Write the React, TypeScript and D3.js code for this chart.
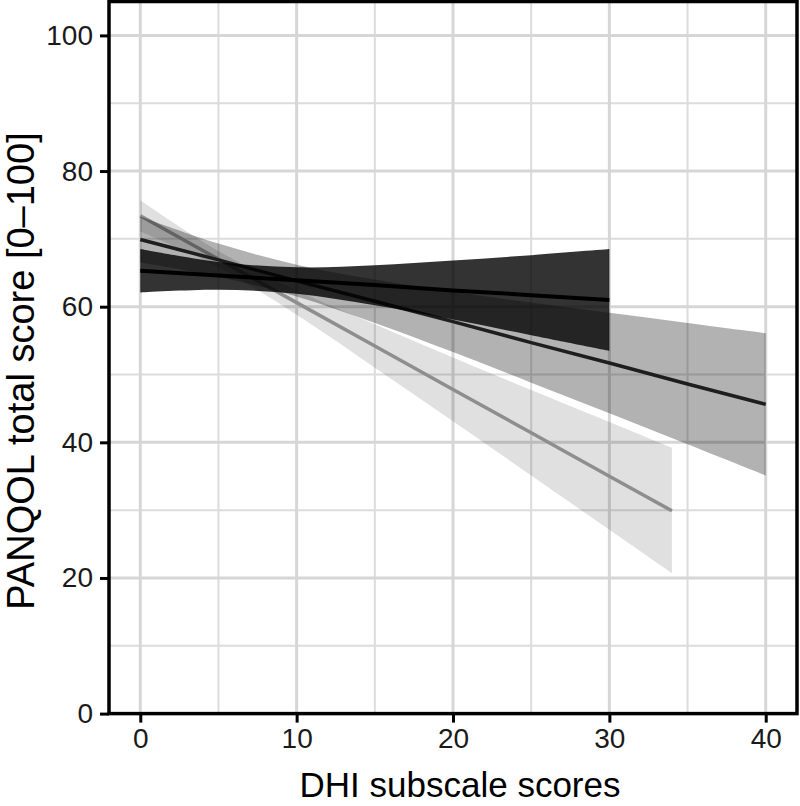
import { useEffect, useRef } from 'react'
import * as d3 from 'd3'

const darkX = [0, 5, 10, 15, 20, 25, 30]
const darkFit = [65.3, 64.6, 63.9, 63.2, 62.4, 61.7, 61.0]
const darkLow = [62.1, 62.5, 61.9, 60.2, 58.1, 55.8, 53.5]
const darkHigh = [68.5, 66.6, 65.8, 66.1, 66.8, 67.6, 68.5]

const midX = [0, 5, 10, 15, 20, 25, 30, 35, 40]
const midFit = [69.9, 66.9, 63.8, 60.8, 57.8, 54.7, 51.7, 48.6, 45.6]
const midLow = [66.5, 64.4, 61.5, 57.6, 53.3, 48.8, 44.3, 39.7, 35.1]
const midHigh = [73.3, 69.3, 66.2, 64.0, 62.2, 60.6, 59.1, 57.6, 56.1]

const lightX = [0, 5, 10, 15, 20, 25, 30, 34]
const lightFit = [73.4, 67.0, 60.6, 54.2, 47.8, 41.4, 35.0, 29.9]
const lightLow = [71.1, 65.8, 58.8, 51.0, 43.1, 35.1, 27.1, 20.7]
const lightHigh = [75.7, 68.2, 62.4, 57.4, 52.5, 47.7, 43.0, 39.2]

const xTicks = [0, 10, 20, 30, 40]
const xMinor = [5, 15, 25, 35]
const yTicks = [0, 20, 40, 60, 80, 100]
const yMinor = [10, 30, 50, 70, 90]

const xTitle = 'DHI subscale scores'
const yTitle = 'PANQOL total score [0\u2013100]'

export default function App() {
  const svgRef = useRef<SVGSVGElement | null>(null)
  const width = 800
  const height = 806

  useEffect(() => {
    const svg = d3.select(svgRef.current)
    svg.selectAll('*').remove()

    const left = 109, right = 797, top = 1.5, bottom = 713.6
    const x = d3.scaleLinear().domain([-2, 42]).range([left, right])
    const y = d3.scaleLinear().domain([0, 105]).range([bottom, top])
    const font = '"Liberation Sans", Arial, Helvetica, sans-serif'

    const g = svg.append('g')

    // grid
    g.selectAll('line.xminor').data(xMinor).enter().append('line')
      .attr('x1', d => x(d)).attr('x2', d => x(d)).attr('y1', top).attr('y2', bottom)
      .attr('stroke', '#dcdcdc').attr('stroke-width', 2)
    g.selectAll('line.yminor').data(yMinor).enter().append('line')
      .attr('y1', d => y(d)).attr('y2', d => y(d)).attr('x1', left).attr('x2', right)
      .attr('stroke', '#dcdcdc').attr('stroke-width', 2)
    g.selectAll('line.xmajor').data(xTicks).enter().append('line')
      .attr('x1', d => x(d)).attr('x2', d => x(d)).attr('y1', top).attr('y2', bottom)
      .attr('stroke', '#d6d6d6').attr('stroke-width', 3)
    g.selectAll('line.ymajor').data(yTicks).enter().append('line')
      .attr('y1', d => y(d)).attr('y2', d => y(d)).attr('x1', left).attr('x2', right)
      .attr('stroke', '#d6d6d6').attr('stroke-width', 3)

    const groups = [
      { xs: lightX, fit: lightFit, lo: lightLow, hi: lightHigh, fill: 0.12, line: '#8e8e8e', lw: 3.5 },
      { xs: midX, fit: midFit, lo: midLow, hi: midHigh, fill: 0.3, line: '#1e1e1e', lw: 3.5 },
      { xs: darkX, fit: darkFit, lo: darkLow, hi: darkHigh, fill: 0.8, line: '#000', lw: 4 },
    ]

    groups.forEach(grp => {
      const pts = grp.xs.map((v, i) => ({ v, fit: grp.fit[i], lo: grp.lo[i], hi: grp.hi[i] }))
      const area = d3.area<any>()
        .x(d => x(d.v)).y0(d => y(d.lo)).y1(d => y(d.hi))
        .curve(d3.curveCatmullRom)
      const line = d3.line<any>().x(d => x(d.v)).y(d => y(d.fit))
      g.append('path').attr('d', area(pts)).attr('fill', '#000').attr('fill-opacity', grp.fill)
      g.append('path').attr('d', line(pts)).attr('fill', 'none')
        .attr('stroke', grp.line).attr('stroke-width', grp.lw)
    })

    // panel border
    g.append('rect').attr('x', left).attr('y', top)
      .attr('width', right - left).attr('height', bottom - top)
      .attr('fill', 'none').attr('stroke', '#000').attr('stroke-width', 3.5)

    // axes
    const xAxis = d3.axisBottom(x).tickValues(xTicks).tickSize(9).tickPadding(6)
    const yAxis = d3.axisLeft(y).tickValues(yTicks).tickSize(9).tickPadding(7)

    const xa = g.append('g').attr('transform', `translate(0, ${bottom})`).call(xAxis)
    const ya = g.append('g').attr('transform', `translate(${left}, 0)`).call(yAxis)
    ;[xa, ya].forEach(a => {
      a.select('.domain').remove()
      a.selectAll('line').attr('stroke', '#000').attr('stroke-width', 3)
      a.selectAll('text').attr('fill', '#1a1a1a')
        .style('font-family', font).style('font-size', '28px')
    })

    g.append('text')
      .attr('x', 460).attr('y', 797)
      .attr('text-anchor', 'middle')
      .style('font-family', font).style('font-size', '35px')
      .attr('fill', '#000')
      .text(xTitle)

    g.append('text')
      .attr('transform', `translate(34, 371) rotate(-90)`)
      .attr('text-anchor', 'middle')
      .style('font-family', font).style('font-size', '38px')
      .attr('fill', '#000')
      .text(yTitle)
  }, [])

  return (
    <svg ref={svgRef} width={width} height={height}
      style={{ position: 'absolute', left: 0, top: 0, background: '#fff' }} />
  )
}
